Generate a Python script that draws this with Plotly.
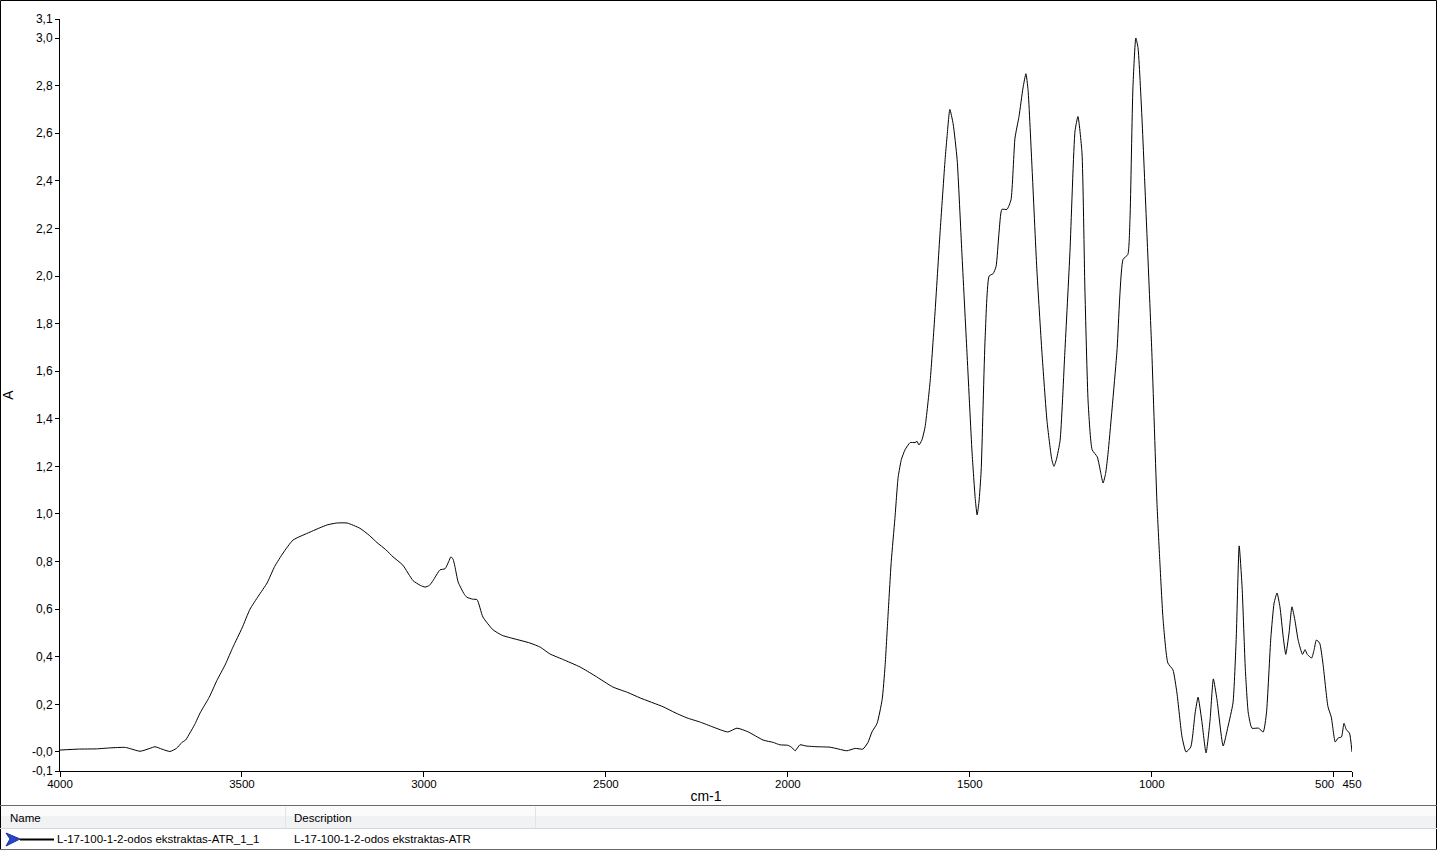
import plotly.graph_objects as go

wavenumber = [4000, 3950, 3900, 3863, 3820, 3780, 3753, 3739, 3720, 3698, 3680, 3665, 3655, 3643, 3630, 3615, 3590, 3569, 3545, 3525,
              3500, 3478, 3455, 3431, 3410, 3387, 3360, 3313, 3266, 3240, 3211, 3176, 3150, 3129, 3105, 3085, 3058, 3030, 3010, 2997,
              2985, 2975, 2956, 2942, 2932, 2926, 2920, 2915, 2906, 2890, 2882, 2866, 2854, 2838, 2810, 2785, 2763, 2709, 2680, 2654,
              2620, 2571, 2530, 2481, 2440, 2406, 2343, 2310, 2277, 2240, 2206, 2165, 2140, 2110, 2068, 2040, 2022, 2000, 1990, 1980,
              1967, 1950, 1920, 1884, 1860, 1838, 1815, 1794, 1780, 1769, 1755, 1741, 1733, 1725, 1716, 1706, 1697, 1688, 1678, 1664,
              1651, 1645, 1640, 1632, 1623, 1609, 1596, 1582, 1568, 1563, 1555, 1546, 1535, 1522, 1508, 1494, 1485, 1480, 1475, 1469,
              1458, 1447, 1436, 1428, 1420, 1412, 1398, 1387, 1376, 1365, 1354, 1346, 1340, 1329, 1316, 1302, 1288, 1275, 1269, 1262,
              1252, 1239, 1225, 1211, 1203, 1192, 1184, 1175, 1164, 1150, 1140, 1134, 1127, 1120, 1096, 1079, 1066, 1060, 1052, 1044,
              1038, 1027, 1013, 1000, 986, 978, 969, 956, 942, 931, 917, 906, 893, 881, 873, 863, 851, 840, 831, 821,
              804, 791, 777, 768, 760, 752, 743, 735, 725, 707, 694, 685, 673, 664, 656, 648, 639, 632, 623, 615,
              607, 598, 586, 579, 573, 561, 554, 548, 539, 530, 516, 507, 496, 488, 479, 472, 465, 457, 450]

absorbance = [0.008, 0.012, 0.013, 0.017, 0.019, 0.003, 0.015, 0.022, 0.012, 0.002, 0.015, 0.04, 0.05, 0.08, 0.115, 0.164, 0.23, 0.30, 0.37, 0.44,
              0.52, 0.60, 0.655, 0.71, 0.78, 0.836, 0.89, 0.924, 0.954, 0.962, 0.962, 0.94, 0.91, 0.88, 0.85, 0.82, 0.785, 0.72, 0.70, 0.693,
              0.70, 0.72, 0.765, 0.77, 0.80, 0.82, 0.81, 0.78, 0.714, 0.665, 0.65, 0.642, 0.64, 0.567, 0.513, 0.49, 0.48, 0.458, 0.44, 0.412,
              0.39, 0.357, 0.32, 0.273, 0.25, 0.227, 0.19, 0.165, 0.143, 0.125, 0.105, 0.084, 0.10, 0.085, 0.05, 0.04, 0.03, 0.028, 0.02, 0.005,
              0.03, 0.025, 0.022, 0.02, 0.012, 0.005, 0.015, 0.012, 0.04, 0.084, 0.12, 0.22, 0.36, 0.57, 0.80, 0.98, 1.155, 1.23, 1.27, 1.30,
              1.30, 1.305, 1.29, 1.31, 1.366, 1.56, 1.84, 2.18, 2.49, 2.58, 2.70, 2.64, 2.49, 2.10, 1.68, 1.26, 1.06, 0.996, 1.05, 1.18,
              1.74, 2.00, 2.01, 2.04, 2.18, 2.28, 2.28, 2.32, 2.58, 2.67, 2.79, 2.85, 2.78, 2.45, 2.03, 1.68, 1.39, 1.23, 1.20, 1.23,
              1.31, 1.68, 2.10, 2.61, 2.67, 2.52, 1.95, 1.47, 1.27, 1.24, 1.17, 1.13, 1.17, 1.26, 1.68, 2.07, 2.09, 2.24, 2.79, 3.00,
              2.96, 2.66, 2.16, 1.68, 1.05, 0.80, 0.555, 0.374, 0.345, 0.248, 0.063, 0.0, 0.021, 0.164, 0.23, 0.134, -0.004, 0.134, 0.307, 0.22,
              0.025, 0.105, 0.206, 0.483, 0.866, 0.693, 0.345, 0.164, 0.10, 0.10, 0.084, 0.164, 0.48, 0.626, 0.668, 0.61, 0.483, 0.41, 0.50, 0.61,
              0.555, 0.47, 0.41, 0.43, 0.41, 0.395, 0.43, 0.47, 0.458, 0.374, 0.19, 0.147, 0.042, 0.059, 0.063, 0.12, 0.092, 0.08, 0.0]

x_tickvals = [4000, 3500, 3000, 2500, 2000, 1500, 1000, 500, 450]
x_ticktext = ["4000", "3500", "3000", "2500", "2000", "1500", "1000", "", "450"]
x_crowded_label = ("500", 500)  # drawn right-aligned next to its tick so it does not collide with "450"
y_tickvals = [-0.08, 0.0, 0.2, 0.4, 0.6, 0.8, 1.0, 1.2, 1.4, 1.6, 1.8, 2.0, 2.2, 2.4, 2.6, 2.8, 3.0, 3.08]
y_ticktext = ["-0,1", "-0,0", "0,2", "0,4", "0,6", "0,8", "1,0", "1,2", "1,4", "1,6", "1,8", "2,0", "2,2", "2,4", "2,6", "2,8", "3,0", "3,1"]

series_name = "L-17-100-1-2-odos ekstraktas-ATR_1_1"
series_desc = "L-17-100-1-2-odos ekstraktas-ATR"

W, H = 1438, 850
L, R, T, B = 60, 1352, 19, 771


def px(x):
    return (x - L) / (R - L)


def py(y):
    return (B - y) / (B - T)


fig = go.Figure()
fig.add_trace(go.Scatter(x=wavenumber, y=absorbance, mode="lines",
                         line=dict(color="black", width=1, shape="spline", smoothing=0.5),
                         name=series_name, showlegend=False, hoverinfo="x+y"))

FAM = "Liberation Sans, Arial, sans-serif"
font = dict(family=FAM, size=12, color="black")
xfont = dict(family=FAM, size=11.5, color="black")

fig.update_layout(
    width=W, height=H,
    margin=dict(l=L, r=W - R, t=T, b=H - B, pad=0),
    paper_bgcolor="white", plot_bgcolor="white",
    font=font,
    xaxis=dict(range=[4000, 450], tickvals=x_tickvals, ticktext=x_ticktext, tickangle=0,
               showgrid=False, zeroline=False, showline=True, linecolor="black", linewidth=1,
               ticks="outside", ticklen=5, tickcolor="black", tickfont=xfont,
               ticklabelstandoff=-3,
               title=dict(text="cm-1", font=dict(family=FAM, size=14, color="black"), standoff=2),
               automargin=False),
    yaxis=dict(range=[-0.08, 3.08], tickvals=y_tickvals, ticktext=y_ticktext,
               showgrid=False, zeroline=False, showline=True, linecolor="black", linewidth=1,
               ticks="outside", ticklen=4, tickcolor="black", tickfont=font,
               title=dict(text="A", font=dict(family=FAM, size=14, color="black"), standoff=20),
               automargin=False),
)

# crowded x tick label
fig.add_annotation(text=x_crowded_label[0], xref="x", yref="paper", x=x_crowded_label[1], y=py(783.5),
                   xanchor="right", yanchor="middle", showarrow=False, font=xfont, borderpad=0, xshift=1)

shapes = []
# outer window border
shapes.append(dict(type="rect", xref="paper", yref="paper", x0=px(0.5), x1=px(1436.5), y0=py(849.5), y1=py(0.5),
                   line=dict(color="black", width=1), fillcolor="rgba(0,0,0,0)", layer="above"))
# table header band
shapes.append(dict(type="rect", xref="paper", yref="paper", x0=px(1), x1=px(1436), y0=py(816), y1=py(806),
                   line=dict(width=0), fillcolor="#fbfbfc", layer="above"))
shapes.append(dict(type="rect", xref="paper", yref="paper", x0=px(1), x1=px(1436), y0=py(828), y1=py(816),
                   line=dict(width=0), fillcolor="#f1f2f4", layer="above"))
# table lines
shapes.append(dict(type="line", xref="paper", yref="paper", x0=px(0), x1=px(1437), y0=py(805.5), y1=py(805.5),
                   line=dict(color="#6b6b6b", width=1), layer="above"))
shapes.append(dict(type="line", xref="paper", yref="paper", x0=px(0), x1=px(1437), y0=py(828.5), y1=py(828.5),
                   line=dict(color="#d5d5d5", width=1), layer="above"))
shapes.append(dict(type="line", xref="paper", yref="paper", x0=px(0), x1=px(1437), y0=py(849.5), y1=py(849.5),
                   line=dict(color="#6b6b6b", width=1), layer="above"))
for cx in (285.5, 535.5):
    shapes.append(dict(type="line", xref="paper", yref="paper", x0=px(cx), x1=px(cx), y0=py(807), y1=py(828),
                       line=dict(color="#e2e3e6", width=1), layer="above"))
# legend sample: blue arrow icon and black line
shapes.append(dict(type="path", xref="paper", yref="paper",
                   path=f"M {px(6)},{py(833)} L {px(20)},{py(839)} L {px(6)},{py(846)} L {px(10)},{py(839)} Z",
                   line=dict(color="#1a2f9e", width=1), fillcolor="#2946c8", layer="above"))
shapes.append(dict(type="line", xref="paper", yref="paper", x0=px(20), x1=px(54), y0=py(839.5), y1=py(839.5),
                   line=dict(color="black", width=2), layer="above"))
fig.update_layout(shapes=shapes)

tfont = dict(family=FAM, size=11.5, color="black")
annots = [
    ("Name", 8, 818),
    ("Description", 292, 818),
    (series_name, 55, 839),
    (series_desc, 292, 839),
]
for txt, x, y in annots:
    fig.add_annotation(text=txt, xref="paper", yref="paper", x=px(x), y=py(y),
                       xanchor="left", yanchor="middle", showarrow=False, font=tfont)

fig.write_html("out.html", config={"displayModeBar": False},
               post_script="document.body.style.margin='0';document.body.style.padding='0';"
                           "document.documentElement.style.overflow='hidden';")
